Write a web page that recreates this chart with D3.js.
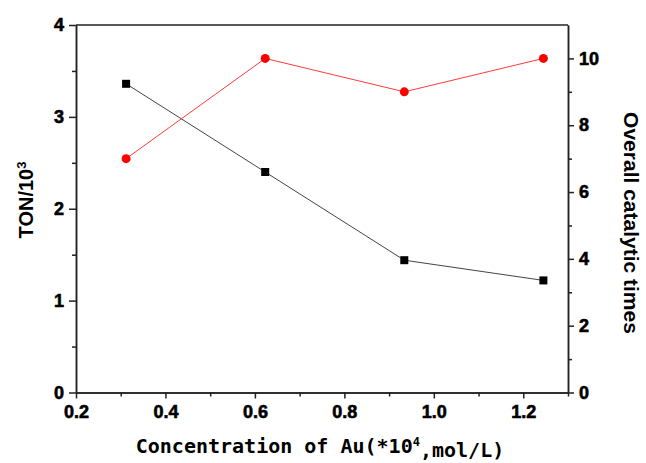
<!DOCTYPE html>
<html>
<head>
<meta charset="utf-8">
<script src="https://cdn.jsdelivr.net/npm/d3@7"></script>
<style>
  body { margin: 0; background: #fff; }
  svg { display: block; }
  .axis path, .axis line { stroke: #222; stroke-width: 1.5px; }
</style>
</head>
<body>
<svg id="chart" width="646" height="463"></svg>
<script>
// data
const concentration = [0.312, 0.623, 0.934, 1.245];
const ton = [3.36, 2.40, 1.44, 1.22];
const catalyticTimes = [7, 10, 9, 10];

const xTicks = [0.2, 0.4, 0.6, 0.8, 1.0, 1.2];
const xMinor = [0.3, 0.5, 0.7, 0.9, 1.1, 1.3];
const leftTicks = [0, 1, 2, 3, 4];
const leftMinor = [0.5, 1.5, 2.5, 3.5];
const rightTicks = [0, 2, 4, 6, 8, 10];
const rightMinor = [1, 3, 5, 7, 9];

const svg = d3.select("#chart");
const plotL = 76, plotR = 568, plotT = 25, plotB = 392.5;

const x = d3.scaleLinear().domain([0.2, 1.3]).range([plotL, plotR]);
const yL = d3.scaleLinear().domain([0, 4]).range([plotB, plotT]);
const yR = d3.scaleLinear().domain([0, 11]).range([plotB, plotT]);

function boldTicks(g) {
    g.attr("font-family", null).attr("font-size", null);
    g.selectAll("text")
        .style("font-family", "Arial, 'Liberation Sans', sans-serif")
        .style("font-weight", "bold")
        .style("font-size", "18px")
        .style("fill", "#000")
        .style("stroke", "#000").style("stroke-width", "0.6px");
}

// minor ticks first, then major axes on top
svg.append("g").attr("class", "axis").attr("transform", `translate(0,${plotB})`)
    .call(d3.axisBottom(x).tickValues(xMinor).tickSize(4).tickSizeOuter(0).tickFormat(""));
svg.append("g").attr("class", "axis").attr("transform", `translate(${plotL},0)`)
    .call(d3.axisLeft(yL).tickValues(leftMinor).tickSize(4).tickSizeOuter(0).tickFormat(""));
svg.append("g").attr("class", "axis").attr("transform", `translate(${plotR},0)`)
    .call(d3.axisRight(yR).tickValues(rightMinor).tickSize(4).tickSizeOuter(0).tickFormat(""));

svg.append("g").attr("class", "axis").attr("transform", `translate(0,${plotB})`)
    .call(d3.axisBottom(x).tickValues(xTicks).tickSize(6).tickSizeOuter(0).tickPadding(5).tickFormat(d3.format(".1f")))
    .call(boldTicks)
    .selectAll("text").attr("dy", "0.82em");
svg.append("g").attr("class", "axis").attr("transform", `translate(${plotL},0)`)
    .call(d3.axisLeft(yL).tickValues(leftTicks).tickSize(7).tickSizeOuter(0).tickPadding(5).tickFormat(d3.format("d")))
    .call(boldTicks);
svg.append("g").attr("class", "axis").attr("transform", `translate(${plotR},0)`)
    .call(d3.axisRight(yR).tickValues(rightTicks).tickSize(6).tickSizeOuter(0).tickPadding(5).tickFormat(d3.format("d")))
    .call(boldTicks);

// top frame line
svg.append("line")
    .attr("x1", plotL).attr("x2", plotR).attr("y1", plotT).attr("y2", plotT)
    .attr("stroke", "#222").attr("stroke-width", 1.5);

// TON series (left axis)
svg.append("path")
    .datum(concentration.map((c, i) => [c, ton[i]]))
    .attr("fill", "none").attr("stroke", "#444").attr("stroke-width", 1)
    .attr("d", d3.line().x(d => x(d[0])).y(d => yL(d[1])));

svg.selectAll("rect.pt")
    .data(concentration.map((c, i) => [c, ton[i]]))
    .enter().append("rect")
    .attr("class", "pt")
    .attr("x", d => x(d[0]) - 4).attr("y", d => yL(d[1]) - 4)
    .attr("width", 8).attr("height", 8)
    .attr("fill", "#000");

// catalytic times series (right axis)
svg.append("path")
    .datum(concentration.map((c, i) => [c, catalyticTimes[i]]))
    .attr("fill", "none").attr("stroke", "#ff3b3b").attr("stroke-width", 1)
    .attr("d", d3.line().x(d => x(d[0])).y(d => yR(d[1])));

svg.selectAll("circle.pt")
    .data(concentration.map((c, i) => [c, catalyticTimes[i]]))
    .enter().append("circle")
    .attr("class", "pt")
    .attr("cx", d => x(d[0])).attr("cy", d => yR(d[1]))
    .attr("r", 4.5)
    .attr("fill", "#ff0000");

// axis titles
const yTitle = svg.append("text")
    .attr("transform", "translate(33,200) rotate(-90)")
    .attr("text-anchor", "middle")
    .style("font-family", "Arial, 'Liberation Sans', sans-serif")
    .style("font-weight", "bold").style("font-size", "20px");
yTitle.append("tspan").text("TON/10");
yTitle.append("tspan").text("3").attr("dy", "-0.55em").style("font-size", "13px");

svg.append("text")
    .attr("transform", "translate(624,223) rotate(90)")
    .attr("text-anchor", "middle")
    .style("font-family", "Arial, 'Liberation Sans', sans-serif")
    .style("font-weight", "bold").style("font-size", "21px")
    .text("Overall catalytic times");

const xTitle = svg.append("text")
    .attr("x", 320).attr("y", 453)
    .attr("text-anchor", "middle")
    .style("font-family", "'DejaVu Sans Mono', 'Liberation Mono', monospace")
    .style("font-weight", "bold").style("font-size", "20px");
xTitle.append("tspan").text("Concentration of Au(*10");
xTitle.append("tspan").text("4").attr("dy", "-0.55em").style("font-size", "12px");
xTitle.append("tspan").text(",mol/L)").attr("dy", "0.55em");
</script>
</body>
</html>
